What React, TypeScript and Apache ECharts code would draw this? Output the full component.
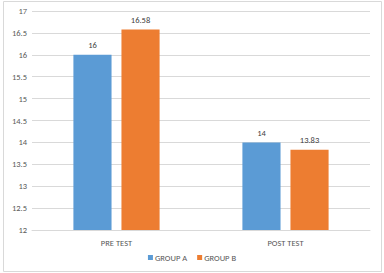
import React, { useEffect, useRef } from "react";
import * as echarts from "echarts";

const categories = ["PRE TEST", "POST TEST"];
const groupA = [16, 14];
const groupB = [16.58, 13.83];
const seriesNames = ["GROUP A", "GROUP B"];

export default function App() {
  const ref = useRef<HTMLDivElement>(null);
  useEffect(() => {
    const chart = echarts.init(ref.current!, null, { renderer: "svg" });
    const font = "Calibri, Carlito, 'Liberation Sans', 'Open Sans', sans-serif";
    const lbl = { show: true, position: "top", color: "#404040", fontSize: 8.5, fontFamily: font, distance: 5 };
    chart.setOption({
      animation: false,
      backgroundColor: "#fff",
      graphic: [
        {
          type: "rect",
          shape: { x: 3.5, y: 1.5, width: 378, height: 270 },
          style: { fill: "none", stroke: "#d9d9d9", lineWidth: 1 },
          silent: true,
        },
      ],
      grid: { left: 32, right: 14, top: 11, bottom: 43 },
      legend: {
        data: seriesNames,
        bottom: 6,
        left: "center",
        itemWidth: 5,
        itemHeight: 5,
        itemGap: 10,
        icon: "rect",
        textStyle: { color: "#595959", fontSize: 8.5, fontFamily: font, padding: [0, 0, 0, -3] },
      },
      xAxis: {
        type: "category",
        data: categories,
        axisLine: { lineStyle: { color: "#d9d9d9" } },
        axisTick: { show: false },
        axisLabel: { color: "#595959", fontSize: 8.5, fontFamily: font, margin: 8 },
      },
      yAxis: {
        type: "value",
        min: 12,
        max: 17,
        interval: 0.5,
        axisLine: { show: false },
        axisTick: { show: false },
        splitLine: { lineStyle: { color: "#d9d9d9" } },
        axisLabel: { color: "#595959", fontSize: 8.5, fontFamily: font, margin: 5 },
      },
      series: [
        {
          name: seriesNames[0],
          type: "bar",
          data: groupA,
          itemStyle: { color: "#5b9bd5" },
          barGap: "26%",
          barCategoryGap: "49%",
          label: lbl,
        },
        {
          name: seriesNames[1],
          type: "bar",
          data: groupB,
          itemStyle: { color: "#ed7d31" },
          barGap: "26%",
          barCategoryGap: "49%",
          label: lbl,
        },
      ],
    });
    return () => chart.dispose();
  }, []);
  return (
    <div
      ref={ref}
      style={{ position: "fixed", left: 0, top: 0, width: 384, height: 273 }}
    />
  );
}
